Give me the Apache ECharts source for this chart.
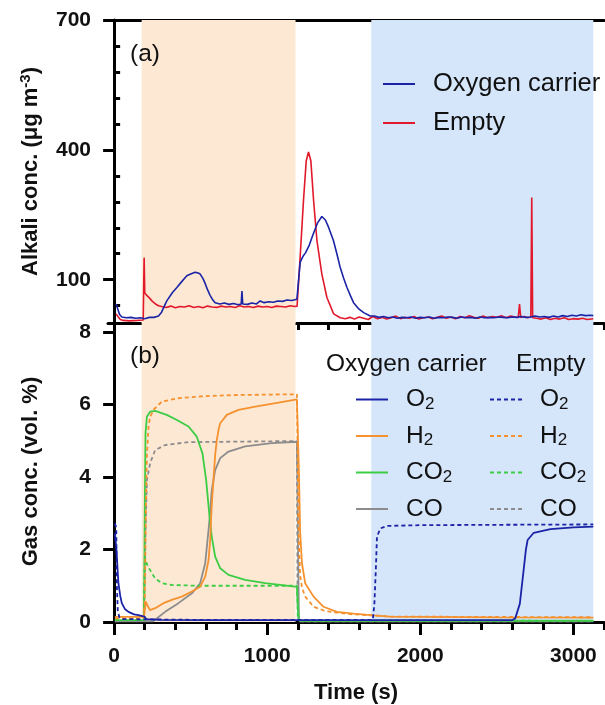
<!DOCTYPE html>
<html>
<head>
<meta charset="utf-8">
<script src="https://cdn.jsdelivr.net/npm/echarts@6/dist/echarts.min.js"></script>
<style>html,body{margin:0;padding:0;background:#fff}#c{width:605px;height:705px}</style>
</head>
<body>
<div id="c"></div>
<script>
// ---------- Panel (a): alkali concentration ----------
const tA_OC = [13,25,35,50,80,110,140,170,200,230,260,290,310,344,380,410,440,475,500,529,545,562,580,595,610,627,645,660,690,720,750,780,810,830,835,840,870,900,930,954,980,1010,1040,1070,1100,1130,1160,1194,1205,1215,1235,1250,1275,1300,1330,1357,1380,1400,1433,1455,1477,1500,1521,1545,1564,1600,1630,1673,1700,1730,1760,1790,1820,1850,1880,1910,1940,1970,2000,2030,2060,2090,2120,2150,2180,2210,2240,2270,2300,2330,2360,2390,2420,2450,2480,2510,2540,2570,2600,2630,2660,2690,2720,2750,2780,2810,2840,2870,2900,2930,2960,2990,3020,3050,3080,3110,3130];
const alkaliOC = [44,40,20,14,12,13,11,12,10,13,13,16,25,51,70,82,95,109,113,117,116,113,103,91,77,64,53,47,44,46,43,45,42,44,74,44,43,46,44,51,47,49,48,51,50,53,52,55,100,140,155,162,180,205,232,246,238,222,190,160,128,103,82,62,47,32,24,16,16,13,15,12,14,11,13,12,14,11,13,12,14,11,13,12,14,13,11,14,12,13,11,14,12,13,12,14,13,12,14,13,15,13,14,16,14,15,13,16,14,17,15,18,16,19,17,18,17];

const tA_Empty = [13,25,40,60,100,150,190,196,200,210,230,250,270,290,310,340,370,400,430,460,490,520,550,580,610,640,670,700,730,760,790,820,850,880,910,940,970,1000,1030,1060,1090,1120,1150,1180,1195,1211,1237,1255,1270,1285,1303,1325,1357,1390,1434,1477,1510,1540,1570,1600,1630,1660,1690,1720,1750,1780,1810,1840,1870,1900,1930,1960,1990,2020,2050,2080,2110,2140,2170,2200,2230,2260,2290,2320,2350,2380,2410,2440,2470,2500,2530,2560,2590,2620,2640,2648,2656,2680,2700,2722,2728,2734,2760,2790,2820,2850,2880,2910,2940,2970,3000,3030,3060,3090,3130];
const alkaliEmpty = [21,15,8,6,5,6,7,151,70,65,58,50,44,40,38,36,39,35,38,37,40,36,38,35,39,37,36,39,37,38,36,40,37,38,36,39,37,38,36,39,38,37,40,38,39,128,283,375,395,375,283,190,113,59,21,12,10,13,9,14,11,8,15,10,13,9,12,16,10,13,11,15,9,12,14,10,13,16,11,14,10,15,12,17,13,11,16,12,15,13,17,12,16,14,13,44,13,15,12,14,290,12,11,9,12,8,11,9,12,8,10,9,11,8,10];

// ---------- Panel (b): gas concentration ----------
const tO2_OC = [5,15,22,28,40,50,70,94,130,159,198,210,300,600,1000,1500,2000,2400,2600,2620,2650,2675,2690,2701,2741,2850,3000,3130];
const o2OC = [2.45,2.0,1.5,1.07,0.72,0.52,0.36,0.28,0.21,0.19,0.15,0.08,0.06,0.05,0.05,0.05,0.05,0.05,0.05,0.1,0.5,1.43,2.0,2.26,2.46,2.56,2.61,2.63];
const tO2_Empty = [5,14,18,24,35,60,500,1200,1690,1700,1710,1717,1739,1782,2000,2500,3130];
const o2Empty = [2.72,2.6,1.0,0.3,0.12,0.08,0.06,0.06,0.06,0.5,1.5,2.35,2.58,2.65,2.67,2.68,2.69];

const tH2_OC = [5,100,195,207,222,235,268,322,377,442,508,562,595,617,628,634,642,649,660,671,682,693,736,812,922,1074,1194,1200,1208,1215,1227,1248,1303,1368,1455,1564,1695,1800,2500,3130];
const h2OC = [0.14,0.14,0.14,0.56,0.42,0.33,0.38,0.52,0.61,0.70,0.84,0.97,1.25,1.71,2.3,2.91,3.5,3.92,4.6,5.02,5.3,5.48,5.71,5.85,5.94,6.05,6.14,6.15,4.0,2.5,1.62,1.07,0.70,0.42,0.28,0.23,0.18,0.15,0.13,0.12];
const tH2_Empty = [5,190,200,207,214,225,235,257,312,420,595,812,1194,1196,1205,1215,1227,1248,1303,1380,1455,1564,1695,1800,3130];
const h2Empty = [0.1,0.1,0.5,3.0,4.6,5.4,5.65,5.85,6.08,6.17,6.23,6.26,6.28,6.28,2.5,1.3,0.95,0.70,0.42,0.30,0.26,0.21,0.18,0.15,0.13];

const tCO2_OC = [5,195,200,205,214,235,268,344,410,486,540,577,601,621,638,660,693,747,856,987,1194,1200,1206,1215,3130];
const co2OC = [0.05,0.05,3.0,5.2,5.66,5.80,5.82,5.71,5.57,5.39,5.11,4.65,3.92,3.00,2.35,1.80,1.48,1.30,1.16,1.07,0.97,0.96,0.1,0.03,0.04];
const tCO2_Empty = [5,195,200,214,235,268,312,377,540,1194,1200,3130];
const co2Empty = [0.05,0.05,1.8,1.6,1.43,1.2,1.07,1.02,1.0,1.0,0.05,0.03];

const tCO_OC = [5,255,268,333,420,508,562,595,621,638,660,693,747,856,1031,1194,1200,1207,1215,3130];
const coOC = [0.02,0.02,0.07,0.28,0.52,0.79,1.07,1.62,2.72,3.64,4.19,4.52,4.70,4.84,4.93,4.97,4.97,0.1,0.02,0.02];
const tCO_Empty = [5,195,205,214,235,268,333,486,1194,1198,1205,3130];
const coEmpty = [0.02,0.05,2.5,3.9,4.38,4.74,4.88,4.96,4.99,0.5,0.02,0.02];

// ---------- axes ----------
const xMajor = [0,1000,2000,3000];
const xMinor = [200,400,600,800,1200,1400,1600,1800,2200,2400,2600,2800,3200];
const yAMajor = [100,400,700];
const yAMinor = [40,160,220,280,340,460,520,580,640];
const yBTicks = [0,2,4,6,8];
const phaseReduction = [180,1185];
const phaseOxidation = [1680,3130];

const zip = (t,v) => t.map((x,i)=>[x,v[i]]);
const FONT = 'Liberation Sans';
const BLUE='#1b24a6', RED='#e2182b', ORANGE='#f5922f', GREEN='#3ccd45', GRAY='#8c8c8c';
const SOLID_ICON = 'path://M0,0h32v2h-32z';
const DASH_ICON = 'path://M0,0h4v2h-4zM7,0h4v2h-4zM14,0h4v2h-4zM21,0h4v2h-4zM28,0h4v2h-4z';

const chart = echarts.init(document.getElementById('c'), null, {renderer:'canvas'});

const axisLine = {show:true, lineStyle:{color:'#000', width:3}};
function xAx(grid, opts){
  return Object.assign({type:'value', gridIndex:grid, min:-40, max:3200, splitLine:{show:false},
    axisLine:{show:false}, axisLabel:{show:false}, axisTick:{show:false}}, opts);
}
const subMap = {O2:'{m|O}{s|2}', H2:'{m|H}{s|2}', CO2:'{m|CO}{s|2}', CO:'{m|CO}'};
const legRich = {m:{fontSize:24.5, fontFamily:FONT, color:'#111'}, s:{fontSize:17, fontFamily:FONT, color:'#111', padding:[9,0,0,0]}};

function gasSeries(name, t, v, color, dashed){
  return {name, type:'line', xAxisIndex:3, yAxisIndex:2, data:zip(t,v), symbol:'none', z:3,
    lineStyle:{color, width:1.8, type: dashed ? [4,3] : 'solid'}, itemStyle:{color}};
}
const shade = (xi, yi) => ({type:'line', xAxisIndex:xi, yAxisIndex:yi, data:[], z:1, silent:true,
  markArea:{silent:true, data:[
    [{xAxis:phaseReduction[0], itemStyle:{color:'#fde8d4'}},{xAxis:phaseReduction[1]}],
    [{xAxis:phaseOxidation[0], itemStyle:{color:'#d5e5fa'}},{xAxis:phaseOxidation[1]}]
  ]}});
const legItems = (names, icon) => names.map(n => ({name:n, icon}));

chart.setOption({
  animation:false,
  textStyle:{fontFamily:FONT},
  grid:[
    {left:108, top:20, width:496, height:303},
    {left:108, top:321, width:496, height:301}
  ],
  title:[
    {text:'(a)', left:125, top:37, textStyle:{fontSize:24.5, fontWeight:'normal', color:'#111', fontFamily:FONT}},
    {text:'(b)', left:125, top:339, textStyle:{fontSize:24.5, fontWeight:'normal', color:'#111', fontFamily:FONT}},
    {text:'Oxygen carrier', left:321, top:347, textStyle:{fontSize:24.5, fontWeight:'normal', color:'#111', fontFamily:FONT}},
    {text:'Empty', left:511, top:347, textStyle:{fontSize:24.5, fontWeight:'normal', color:'#111', fontFamily:FONT}}
  ],
  legend:[
    {data:legItems(['Oxygen carrier','Empty'], SOLID_ICON), orient:'vertical', left:378, top:66, itemWidth:32, itemHeight:2, itemGap:13,
     textStyle:{fontSize:25.5, color:'#111', fontFamily:FONT, padding:[0,0,0,13]}},
    {data:legItems(['O2','H2','CO2','CO'], SOLID_ICON), orient:'vertical', left:351, top:382, itemWidth:32, itemHeight:2, itemGap:11,
     formatter:n=>subMap[n], textStyle:{fontSize:24.5, color:'#111', padding:[0,0,0,13], rich:legRich}},
    {data:legItems(['Empty O2','Empty H2','Empty CO2','Empty CO'], DASH_ICON), orient:'vertical', left:485, top:382, itemWidth:32, itemHeight:2, itemGap:11,
     formatter:n=>subMap[n.replace('Empty ','')], textStyle:{fontSize:24.5, color:'#111', padding:[0,0,0,13], rich:legRich}}
  ],
  xAxis:[
    xAx(0,{position:'bottom', axisLine, axisTick:{show:true, length:12, customValues:xMajor, lineStyle:{color:'#000', width:3}}}),
    xAx(0,{position:'bottom', axisTick:{show:true, length:7, customValues:xMinor, lineStyle:{color:'#000', width:3}}}),
    xAx(0,{position:'top', axisLine}),
    xAx(1,{position:'bottom', axisLine,
      axisTick:{show:true, length:13, customValues:xMajor, lineStyle:{color:'#000', width:3}},
      axisLabel:{show:true, customValues:xMajor, formatter:v=>String(v), fontSize:21, fontWeight:'bold', color:'#111', margin:24, fontFamily:FONT},
      name:'Time (s)', nameLocation:'middle', nameGap:60,
      nameTextStyle:{fontSize:22, fontWeight:'bold', color:'#111', fontFamily:FONT}}),
    xAx(1,{position:'bottom', axisTick:{show:true, length:8, customValues:xMinor, lineStyle:{color:'#000', width:3}}})
  ],
  yAxis:[
    {type:'value', gridIndex:0, min:0, max:700, splitLine:{show:false}, axisLine,
     axisTick:{show:true, length:11, customValues:yAMajor, lineStyle:{color:'#000', width:3}},
     axisLabel:{customValues:yAMajor, formatter:v=>String(v), fontSize:21, fontWeight:'bold', color:'#111', margin:17, fontFamily:FONT},
     name:'{t|Alkali conc. (μg m}{p|-3}{t|)}', nameLocation:'middle', nameRotate:90, nameGap:65,
     nameTextStyle:{rich:{t:{fontSize:22, fontWeight:'bold', color:'#111', fontFamily:FONT},
                          p:{fontSize:15, fontWeight:'bold', color:'#111', fontFamily:FONT, padding:[0,0,10,0]}}}},
    {type:'value', gridIndex:0, min:0, max:700, splitLine:{show:false}, axisLine:{show:false}, axisLabel:{show:false},
     axisTick:{show:true, length:6, customValues:yAMinor, lineStyle:{color:'#000', width:3}}},
    {type:'value', gridIndex:1, min:0, max:8.3, splitLine:{show:false}, axisLine,
     axisTick:{show:true, length:11, customValues:yBTicks, lineStyle:{color:'#000', width:3}},
     axisLabel:{customValues:yBTicks, formatter:v=>String(v), fontSize:21, fontWeight:'bold', color:'#111', margin:17, fontFamily:FONT},
     name:'Gas conc. (vol. %)', nameLocation:'middle', nameRotate:90, nameGap:66,
     nameTextStyle:{fontSize:22, fontWeight:'bold', color:'#111', fontFamily:FONT}}
  ],
  series:[
    shade(0,0),
    shade(3,2),
    {name:'Oxygen carrier', type:'line', xAxisIndex:0, yAxisIndex:0, data:zip(tA_OC, alkaliOC), symbol:'none', z:4,
     lineStyle:{color:BLUE, width:1.6}, itemStyle:{color:BLUE}},
    {name:'Empty', type:'line', xAxisIndex:0, yAxisIndex:0, data:zip(tA_Empty, alkaliEmpty), symbol:'none', z:3,
     lineStyle:{color:RED, width:1.6}, itemStyle:{color:RED}},
    gasSeries('CO', tCO_OC, coOC, GRAY, false),
    gasSeries('Empty CO', tCO_Empty, coEmpty, GRAY, true),
    gasSeries('CO2', tCO2_OC, co2OC, GREEN, false),
    gasSeries('Empty CO2', tCO2_Empty, co2Empty, GREEN, true),
    gasSeries('H2', tH2_OC, h2OC, ORANGE, false),
    gasSeries('Empty H2', tH2_Empty, h2Empty, ORANGE, true),
    gasSeries('O2', tO2_OC, o2OC, BLUE, false),
    gasSeries('Empty O2', tO2_Empty, o2Empty, BLUE, true)
  ]
});
</script>
</body>
</html>
